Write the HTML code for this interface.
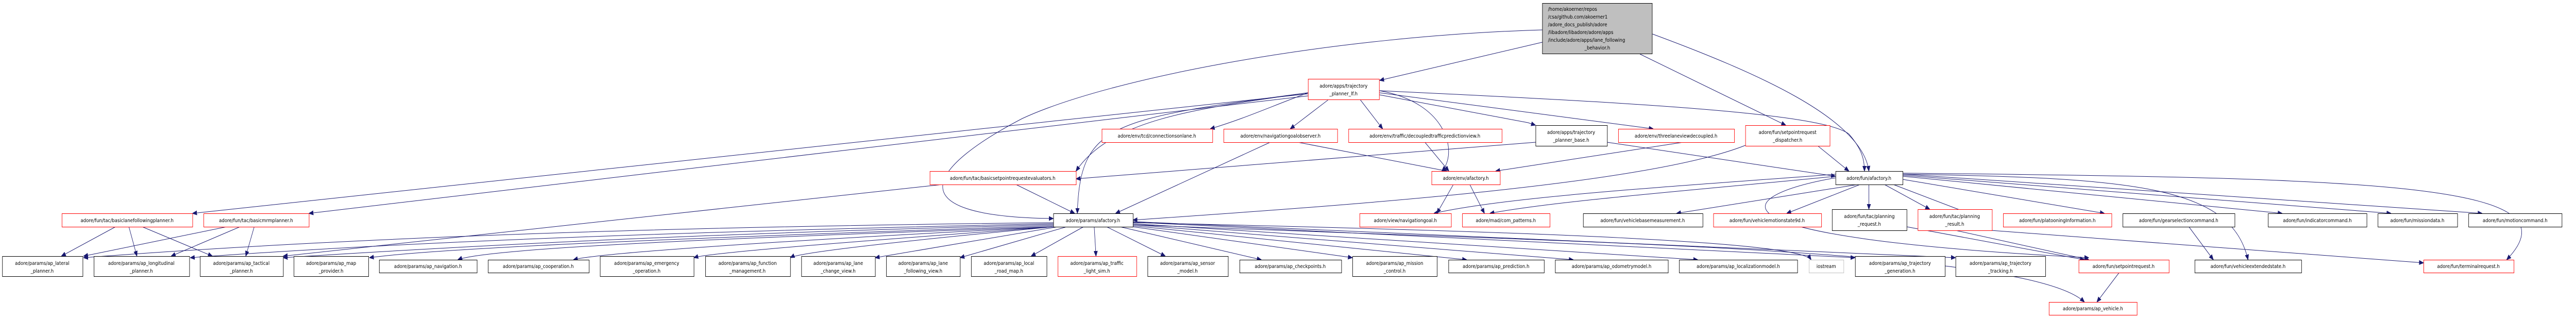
<!DOCTYPE html>
<html><head><meta charset="utf-8"><style>
html,body{margin:0;padding:0;background:#fff;overflow:hidden;}
svg{display:block;width:100vw;height:100vh;}
text{font-family:"DejaVu Sans","Liberation Sans",sans-serif;font-size:10px;fill:#000;}
.e{fill:none;stroke:#191970;stroke-width:1;}
.b{fill:#fff;stroke:#000;stroke-width:1;}
.r{fill:#fff;stroke:#ff0000;stroke-width:1;}
.g{fill:#fff;stroke:#bfbfbf;stroke-width:1;}
</style></head><body>
<svg viewBox="0 0 5796 617" preserveAspectRatio="none" xmlns="http://www.w3.org/2000/svg">
<defs><marker id="a" viewBox="0 0 10 10" refX="10" refY="5" markerWidth="10" markerHeight="10" markerUnits="userSpaceOnUse" orient="auto"><path d="M0,1 L10,5 L0,9 z" fill="#191970" stroke="#191970"/></marker></defs>
<g marker-end="url(#a)">
<path class="e" d="M3470,58 C3000,70 2500,150 2300,230 C2100,320 2000,420 2370,424"/>
<path class="e" d="M3470,82 L3104,156"/>
<path class="e" d="M3690,105 L4018,243"/>
<path class="e" d="M3718,66 C3950,140 4190,230 4205,332"/>
<path class="e" d="M2943,182 L433,414"/>
<path class="e" d="M2943,186 L695,414"/>
<path class="e" d="M2943,180 C2700,210 2500,230 2421,332"/>
<path class="e" d="M2943,180 C2500,230 2430,240 2424,414"/>
<path class="e" d="M2943,180 C2850,210 2800,230 2723,250"/>
<path class="e" d="M2988,194 L2903,250"/>
<path class="e" d="M3061,194 L3111,250"/>
<path class="e" d="M3104,184 L3438,238 L3455,243"/>
<path class="e" d="M3104,180 L3720,250"/>
<path class="e" d="M3104,176 C3260,200 3280,300 3244,332"/>
<path class="e" d="M3104,176 C3700,200 4100,220 4160,260 C4190,290 4195,310 4195,332"/>
<path class="e" d="M3455,276 L2421,347"/>
<path class="e" d="M3616,276 L4130,342"/>
<path class="e" d="M3927,282 C3700,360 3000,400 2549,427"/>
<path class="e" d="M4090,283 L4160,332"/>
<path class="e" d="M3787,276 L3365,332"/>
<path class="e" d="M3206,276 L3260,332"/>
<path class="e" d="M2920,276 L3256,332"/>
<path class="e" d="M2858,276 L2510,414"/>
<path class="e" d="M2286,358 L2418,414"/>
<path class="e" d="M2120,358 L637,497"/>
<path class="e" d="M3270,358 L3233,414"/>
<path class="e" d="M3307,358 L3340,414"/>
<path class="e" d="M4130,338 C3800,360 3400,380 3226,414"/>
<path class="e" d="M4130,342 C3800,370 3500,390 3352,414"/>
<path class="e" d="M4180,358 L3772,414"/>
<path class="e" d="M4185,358 L4020,414"/>
<path class="e" d="M4205,358 L4205,406"/>
<path class="e" d="M4240,358 L4342,406"/>
<path class="e" d="M4260,358 L4430,414"/>
<path class="e" d="M4281,348 L4735,414"/>
<path class="e" d="M4281,342 L5135,414"/>
<path class="e" d="M4281,340 L5380,414"/>
<path class="e" d="M4281,338 L5585,414"/>
<path class="e" d="M4281,338 C4800,345 5020,360 5058,504"/>
<path class="e" d="M4281,336 C5400,345 5800,360 5640,504"/>
<path class="e" d="M4130,345 C3900,380 3800,460 4700,500"/>
<path class="e" d="M4480,447 L5453,510"/>
<path class="e" d="M4400,447 L4700,504"/>
<path class="e" d="M4290,440 L4690,504"/>
<path class="e" d="M4925,440 L4980,504"/>
<path class="e" d="M4768,529 L4718,586"/>
<path class="e" d="M2549,436 C3500,470 4560,480 4690,586"/>
<path class="e" d="M260,440 L138,497"/>
<path class="e" d="M290,440 L308,497"/>
<path class="e" d="M320,440 L478,497"/>
<path class="e" d="M510,440 L188,497"/>
<path class="e" d="M540,440 L385,497"/>
<path class="e" d="M572,440 L553,497"/>
<path class="e" d="M2370,432 C1500,440 800,460 188,500"/>
<path class="e" d="M2370,434 C1500,450 900,470 428,500"/>
<path class="e" d="M2370,436 C1500,455 1000,480 637,500"/>
<path class="e" d="M2370,438 C1600,460 1000,480 831,500"/>
<path class="e" d="M2370,440 C1700,460 1100,480 1030,504"/>
<path class="e" d="M2370,440 C1800,465 1350,490 1290,504"/>
<path class="e" d="M2370,440 C1900,470 1600,490 1561,500"/>
<path class="e" d="M2370,440 C2000,470 1800,490 1778,500"/>
<path class="e" d="M2380,440 L1969,500"/>
<path class="e" d="M2400,440 L2160,500"/>
<path class="e" d="M2438,440 L2320,497"/>
<path class="e" d="M2462,440 L2466,497"/>
<path class="e" d="M2490,440 L2622,497"/>
<path class="e" d="M2520,440 L2838,504"/>
<path class="e" d="M2549,440 L3043,500"/>
<path class="e" d="M2549,438 L3300,504"/>
<path class="e" d="M2549,436 L3540,504"/>
<path class="e" d="M2549,434 L3820,504"/>
<path class="e" d="M2549,432 C3500,450 4050,470 4075,504"/>
<path class="e" d="M2549,431 L4174,500"/>
<path class="e" d="M2549,430 L4400,500"/>
</g>
<rect x="3470.5" y="6.5" width="247" height="98" fill="#bfbfbf" stroke="#000"/>
<text x="3483" y="21">/home/akoerner/repos</text>
<text x="3483" y="36">/csa/github.com/akoerner1</text>
<text x="3483" y="51">/adore_docs_publish/adore</text>
<text x="3483" y="66">/libadore/libadore/adore/apps</text>
<text x="3483" y="81">/include/adore/apps/lane_following</text>
<text x="3594" y="96" text-anchor="middle">_behavior.h</text>
<g text-anchor="middle">
<rect class="r" x="2943.5" y="153.5" width="160" height="40"/><text x="3023" y="170">adore/apps/trajectory</text><text x="3023" y="185">_planner_lf.h</text>
<rect class="r" x="139.5" y="414.5" width="294" height="26"/><text x="286" y="431">adore/fun/tac/basiclanefollowingplanner.h</text>
<rect class="r" x="458.5" y="414.5" width="237" height="26"/><text x="576" y="431">adore/fun/tac/basicmrmplanner.h</text>
<rect class="b" x="5.5" y="497.5" width="181" height="39"/><text x="95" y="514">adore/params/ap_lateral</text><text x="95" y="529">_planner.h</text>
<rect class="b" x="211.5" y="497.5" width="215" height="39"/><text x="318" y="514">adore/params/ap_longitudinal</text><text x="318" y="529">_planner.h</text>
<rect class="b" x="450.5" y="497.5" width="187" height="39"/><text x="543" y="514">adore/params/ap_tactical</text><text x="543" y="529">_planner.h</text>
<rect class="b" x="661.5" y="497.5" width="168" height="39"/><text x="745" y="514">adore/params/ap_map</text><text x="745" y="529">_provider.h</text>
<rect class="b" x="853.5" y="504.5" width="220" height="25"/><text x="963" y="520">adore/params/ap_navigation.h</text>
<rect class="b" x="1098.5" y="504.5" width="227" height="25"/><text x="1211" y="520">adore/params/ap_cooperation.h</text>
<rect class="b" x="1350.5" y="497.5" width="211" height="39"/><text x="1455" y="514">adore/params/ap_emergency</text><text x="1455" y="529">_operation.h</text>
<rect class="b" x="1587.5" y="497.5" width="191" height="39"/><text x="1682" y="514">adore/params/ap_function</text><text x="1682" y="529">_management.h</text>
<rect class="b" x="1803.5" y="497.5" width="166" height="39"/><text x="1886" y="514">adore/params/ap_lane</text><text x="1886" y="529">_change_view.h</text>
<rect class="b" x="1994.5" y="497.5" width="166" height="39"/><text x="2077" y="514">adore/params/ap_lane</text><text x="2077" y="529">_following_view.h</text>
<rect class="b" x="2185.5" y="497.5" width="170" height="39"/><text x="2270" y="514">adore/params/ap_local</text><text x="2270" y="529">_road_map.h</text>
<rect class="r" x="2380.5" y="497.5" width="177" height="39"/><text x="2468" y="514">adore/params/ap_traffic</text><text x="2468" y="529">_light_sim.h</text>
<rect class="b" x="2582.5" y="497.5" width="181" height="39"/><text x="2672" y="514">adore/params/ap_sensor</text><text x="2672" y="529">_model.h</text>
<rect class="b" x="2789.5" y="504.5" width="229" height="25"/><text x="2903" y="520">adore/params/ap_checkpoints.h</text>
<rect class="b" x="3043.5" y="497.5" width="190" height="39"/><text x="3138" y="514">adore/params/ap_mission</text><text x="3138" y="529">_control.h</text>
<rect class="b" x="3259.5" y="504.5" width="215" height="25"/><text x="3366" y="520">adore/params/ap_prediction.h</text>
<rect class="b" x="3499.5" y="504.5" width="254" height="25"/><text x="3626" y="520">adore/params/ap_odometrymodel.h</text>
<rect class="b" x="3778.5" y="504.5" width="266" height="25"/><text x="3911" y="520">adore/params/ap_localizationmodel.h</text>
<rect class="g" x="4070.5" y="504.5" width="78" height="25"/><text x="4109" y="520">iostream</text>
<rect class="b" x="4174.5" y="497.5" width="202" height="39"/><text x="4275" y="514">adore/params/ap_trajectory</text><text x="4275" y="529">_generation.h</text>
<rect class="b" x="4400.5" y="497.5" width="202" height="39"/><text x="4501" y="514">adore/params/ap_trajectory</text><text x="4501" y="529">_tracking.h</text>
<rect class="b" x="2370.5" y="414.5" width="179" height="26"/><text x="2459" y="431">adore/params/afactory.h</text>
<rect class="r" x="2092.5" y="332.5" width="329" height="26"/><text x="2256" y="349">adore/fun/tac/basicsetpointrequestevaluators.h</text>
<rect class="r" x="2479.5" y="250.5" width="249" height="26"/><text x="2603" y="267">adore/env/tcd/connectionsonlane.h</text>
<rect class="r" x="2753.5" y="250.5" width="256" height="26"/><text x="2881" y="267">adore/env/navigationgoalobserver.h</text>
<rect class="r" x="3034.5" y="250.5" width="345" height="26"/><text x="3206" y="267">adore/env/traffic/decoupledtrafficpredictionview.h</text>
<rect class="b" x="3455.5" y="243.5" width="161" height="40"/><text x="3535" y="260">adore/apps/trajectory</text><text x="3535" y="275">_planner_base.h</text>
<rect class="r" x="3641.5" y="250.5" width="261" height="26"/><text x="3771" y="267">adore/env/threelaneviewdecoupled.h</text>
<rect class="r" x="3927.5" y="243.5" width="190" height="40"/><text x="4022" y="260">adore/fun/setpointrequest</text><text x="4022" y="275">_dispatcher.h</text>
<rect class="r" x="3221.5" y="332.5" width="154" height="26"/><text x="3298" y="349">adore/env/afactory.h</text>
<rect class="b" x="4130.5" y="332.5" width="151" height="26"/><text x="4205" y="349">adore/fun/afactory.h</text>
<rect class="r" x="3059.5" y="414.5" width="206" height="26"/><text x="3162" y="431">adore/view/navigationgoal.h</text>
<rect class="r" x="3290.5" y="414.5" width="197" height="26"/><text x="3388" y="431">adore/mad/com_patterns.h</text>
<rect class="b" x="3562.5" y="414.5" width="269" height="26"/><text x="3696" y="431">adore/fun/vehiclebasemeasurement.h</text>
<rect class="r" x="3855.5" y="414.5" width="243" height="26"/><text x="3976" y="431">adore/fun/vehiclemotionstate9d.h</text>
<rect class="b" x="4122.5" y="406.5" width="168" height="41"/><text x="4206" y="423">adore/fun/tac/planning</text><text x="4206" y="438">_request.h</text>
<rect class="r" x="4315.5" y="406.5" width="167" height="41"/><text x="4398" y="423">adore/fun/tac/planning</text><text x="4398" y="438">_result.h</text>
<rect class="r" x="4507.5" y="414.5" width="244" height="26"/><text x="4629" y="431">adore/fun/platooningInformation.h</text>
<rect class="b" x="4776.5" y="414.5" width="252" height="26"/><text x="4902" y="431">adore/fun/gearselectioncommand.h</text>
<rect class="b" x="5103.5" y="414.5" width="222" height="26"/><text x="5214" y="431">adore/fun/indicatorcommand.h</text>
<rect class="b" x="5350.5" y="414.5" width="179" height="26"/><text x="5439" y="431">adore/fun/missiondata.h</text>
<rect class="b" x="5554.5" y="414.5" width="210" height="26"/><text x="5659" y="431">adore/fun/motioncommand.h</text>
<rect class="r" x="4677.5" y="504.5" width="203" height="25"/><text x="4778" y="520">adore/fun/setpointrequest.h</text>
<rect class="b" x="4938.5" y="504.5" width="240" height="25"/><text x="5058" y="520">adore/fun/vehicleextendedstate.h</text>
<rect class="r" x="5453.5" y="504.5" width="203" height="25"/><text x="5554" y="520">adore/fun/terminalrequest.h</text>
<rect class="r" x="4610.5" y="586.5" width="198" height="25"/><text x="4709" y="602">adore/params/ap_vehicle.h</text>
</g>
</svg>
</body></html>
